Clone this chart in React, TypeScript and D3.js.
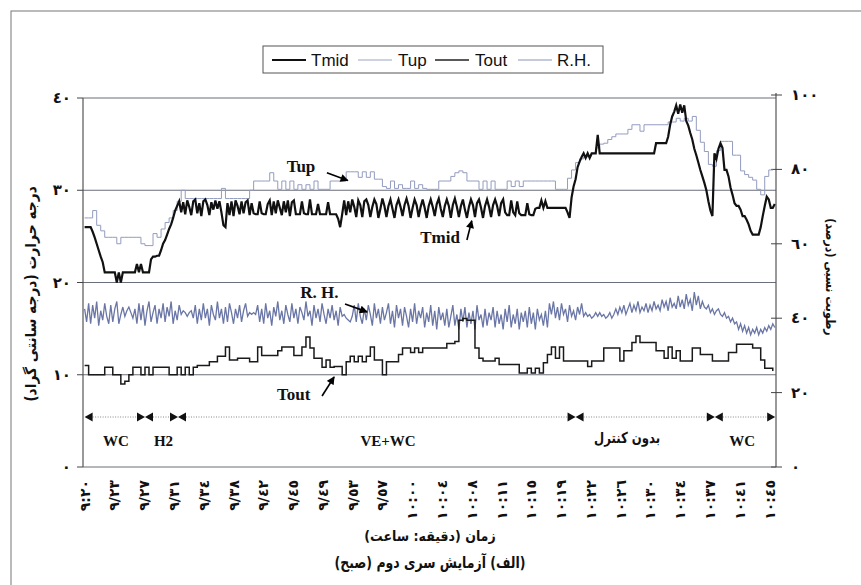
import React from 'react';
import * as d3 from 'd3';

// minutes after 9:20, sampled at a fixed step per series
const TMID_STEP = 0.25;
const tmid = [
  26.0, 26.0, 26.0, 26.0, 25.5, 24.9, 24.2, 23.5, 22.8, 22.2, 21.1, 21.1, 21.1, 21.1, 21.1, 21.1, 20.0, 21.1, 20.0, 21.1,
  21.1, 21.1, 21.1, 21.1, 21.1, 21.1, 22.0, 21.1, 22.0, 21.1, 21.1, 21.1, 21.1, 22.5, 22.8, 22.8, 22.9, 22.9, 23.5, 24.2,
  24.6, 25.2, 25.8, 26.3, 27.0, 27.8, 28.3, 28.8, 27.6, 28.7, 27.4, 28.9, 28.2, 27.3, 28.8, 29.0, 27.5, 28.6, 27.2, 28.8,
  29.0, 28.4, 27.3, 28.7, 27.9, 28.9, 28.0, 28.8, 27.6, 26.2, 26.0, 28.6, 27.3, 28.8, 27.2, 28.9, 28.3, 27.4, 28.8, 27.5,
  28.7, 28.9, 27.3, 28.6, 27.5, 27.4, 27.4, 28.8, 27.5, 27.4, 27.4, 28.5, 28.9, 27.3, 28.8, 27.5, 28.9, 28.1, 27.3, 28.8,
  27.6, 28.9, 27.2, 28.7, 28.9, 27.4, 27.4, 27.4, 28.8, 27.5, 27.4, 27.4, 29.0, 27.4, 27.4, 27.4, 28.5, 27.4, 27.4, 27.4,
  27.4, 28.7, 27.4, 27.4, 27.4, 27.4, 26.9, 26.0, 27.4, 28.9, 27.3, 28.8, 27.6, 29.0, 28.2, 27.1, 28.9, 28.4, 27.1, 28.8,
  29.0, 28.4, 27.1, 28.2, 29.0, 28.5, 27.0, 28.0, 29.1, 28.3, 27.1, 28.3, 29.0, 28.0, 27.0, 28.4, 29.0, 28.2, 27.2, 28.4,
  29.1, 28.3, 27.0, 28.1, 29.0, 28.4, 27.1, 28.2, 29.0, 28.1, 27.0, 28.3, 29.0, 28.2, 27.2, 28.5, 29.1, 28.0, 27.1, 28.3,
  29.0, 28.3, 27.0, 28.4, 29.1, 28.2, 27.1, 28.3, 29.0, 27.9, 27.0, 28.2, 29.0, 28.4, 27.1, 28.6, 29.0, 28.1, 27.0, 28.3,
  29.0, 28.2, 27.1, 28.4, 29.0, 28.3, 27.2, 28.6, 29.0, 27.6, 27.3, 27.3, 28.9, 27.6, 27.3, 28.8, 27.5, 27.3, 27.3, 27.3,
  28.6, 27.4, 27.3, 27.3, 28.0, 28.1, 28.1, 28.9, 28.1, 28.8, 28.1, 28.1, 28.1, 28.1, 28.1, 28.1, 28.1, 28.1, 28.1, 28.1,
  27.6, 27.0, 29.2, 30.4, 31.2, 32.5, 33.1, 33.6, 34.0, 33.5, 34.0, 33.5, 34.0, 34.0, 34.0, 36.0, 34.0, 34.0, 34.0, 34.0,
  34.0, 34.0, 34.0, 34.0, 34.0, 34.0, 34.0, 34.0, 34.0, 34.0, 34.0, 34.0, 34.0, 34.0, 34.0, 34.0, 34.0, 34.0, 34.0, 34.0,
  34.0, 34.0, 34.0, 34.0, 35.1, 35.1, 35.1, 35.1, 35.1, 35.1, 35.8, 37.1, 38.0, 38.5, 39.2, 38.3, 39.3, 38.4, 39.2, 37.5,
  37.0, 36.2, 35.5, 34.5, 33.8, 33.0, 32.2, 31.5, 30.8, 30.0, 28.8, 27.8, 27.2, 34.0, 33.4, 34.5, 35.1, 34.6, 32.2, 32.2,
  31.5, 30.3, 29.5, 28.6, 28.3, 28.3, 27.9, 27.2, 27.2, 26.8, 26.3, 25.6, 25.2, 25.2, 25.2, 25.2, 26.0, 27.2, 28.3, 29.3,
  29.0, 28.1, 28.1, 28.5,
];

const TUP_STEP = 0.5;
const tup = [
  27.0, 27.0, 27.8, 26.2, 25.6, 24.9, 24.9, 24.9, 24.2, 24.9,
  24.9, 24.9, 24.9, 24.9, 24.2, 24.0, 24.0, 25.3, 24.9, 25.8,
  26.5, 27.0, 27.8, 28.8, 30.0, 29.1, 29.1, 29.1, 29.1, 29.1,
  29.1, 29.1, 29.1, 29.1, 30.2, 29.1, 29.1, 29.1, 29.1, 29.1,
  29.1, 30.0, 31.0, 31.0, 31.0, 31.0, 31.9, 31.0, 30.1, 31.0,
  30.1, 31.0, 30.1, 30.6, 30.1, 30.6, 30.1, 31.0, 30.1, 30.1,
  30.1, 31.0, 31.0, 31.0, 31.0, 32.0, 32.0, 32.0, 31.4, 32.0,
  31.4, 32.0, 31.2, 31.2, 30.4, 30.2, 31.0, 30.2, 30.6, 30.2,
  30.2, 31.0, 30.2, 30.6, 30.2, 30.1, 30.1, 30.1, 31.0, 31.0,
  31.0, 31.5, 31.9, 32.1, 31.9, 31.0, 31.0, 31.0, 30.1, 31.0,
  30.1, 31.0, 30.1, 30.1, 30.1, 31.0, 30.4, 31.0, 30.4, 31.0,
  31.0, 31.0, 31.0, 31.0, 31.0, 31.0, 31.0, 30.1, 30.1, 30.1,
  31.3, 32.2, 33.0, 33.4, 33.6, 33.7, 34.0, 34.6, 35.0, 35.1,
  35.5, 35.8, 36.1, 36.1, 36.1, 36.6, 37.1, 37.1, 36.4, 37.1,
  37.1, 37.1, 37.1, 37.1, 37.1, 37.4, 37.4, 37.8, 37.5, 37.8,
  37.5, 38.0, 36.5, 35.2, 34.2, 32.8, 32.6, 34.3, 35.3, 35.3,
  35.3, 33.8, 33.8, 32.1, 31.7, 31.4, 31.1, 30.1, 29.5, 31.5,
  32.2, 32.2,
];

const TOUT_STEP = 0.5;
const tout = [
  11.0, 10.0, 10.0, 10.0, 10.0, 10.8, 10.8, 10.0, 10.0, 9.0,
  9.3, 10.0, 10.8, 10.8, 10.0, 10.8, 10.0, 10.8, 10.8, 10.8,
  10.8, 10.0, 10.0, 10.8, 10.0, 10.8, 10.0, 10.8, 11.0, 11.0,
  11.0, 11.4, 11.4, 12.0, 12.0, 13.0, 11.6, 11.6, 11.8, 11.8,
  11.8, 11.4, 11.4, 13.0, 12.1, 12.1, 12.1, 12.1, 12.6, 13.0,
  13.0, 13.0, 12.1, 12.1, 13.0, 14.1, 12.9, 11.8, 11.8, 10.8,
  11.6, 10.8, 10.9, 10.9, 10.0, 11.4, 12.0, 11.4, 12.0, 11.4,
  12.0, 13.0, 11.6, 11.6, 10.0, 11.4, 11.4, 11.4, 12.2, 12.9,
  12.9, 12.4, 12.9, 12.4, 12.9, 12.9, 12.9, 12.9, 12.9, 12.9,
  13.4, 13.4, 13.6, 15.9, 16.1, 15.9, 15.9, 12.9, 11.8, 11.5,
  11.5, 11.5, 11.8, 11.1, 11.1, 11.1, 11.1, 11.1, 10.2, 10.2,
  10.7, 10.2, 10.7, 10.2, 11.3, 12.2, 13.0, 11.8, 13.0, 11.5,
  11.5, 11.5, 11.5, 11.5, 11.5, 10.9, 11.5, 11.5, 11.5, 12.9,
  12.9, 12.9, 12.9, 11.5, 12.6, 12.6, 13.5, 14.2, 13.5, 13.5,
  13.5, 13.5, 12.6, 12.6, 11.8, 13.0, 11.8, 12.6, 11.5, 11.5,
  11.5, 12.9, 12.9, 12.2, 12.2, 12.2, 11.5, 11.5, 11.5, 11.5,
  12.4, 12.4, 13.3, 13.3, 13.3, 13.3, 12.9, 12.9, 11.6, 10.7,
  10.7, 10.4,
];

const RH_STEP = 0.25;
const rh = [
  42.5, 39.0, 44.0, 38.5, 43.5, 40.0, 44.5, 38.0, 42.0, 39.5, 44.0, 40.5, 38.5, 43.5, 39.0, 42.5, 44.5, 38.5, 41.0, 43.0,
  40.5, 42.0, 43.0, 41.5, 40.0, 42.5, 38.5, 44.0, 39.5, 43.5, 38.0, 42.0, 44.5, 39.0, 41.5, 43.5, 38.5, 42.5, 40.0, 44.0,
  39.0, 43.0, 40.5, 44.5, 38.5, 42.0, 39.5, 43.5, 41.0, 42.0, 41.5, 40.5, 41.5, 42.0, 40.0, 43.5, 38.5, 42.5, 39.5, 44.0,
  40.0, 42.5, 38.0, 43.5, 41.0, 39.5, 44.5, 40.0, 42.5, 38.5, 43.0, 39.0, 44.0, 41.5, 38.5, 42.5, 40.0, 43.5, 39.0, 42.0,
  44.0, 40.5, 41.5, 41.0, 41.5, 41.0, 43.5, 39.0, 42.5, 38.5, 44.0, 40.0, 42.0, 38.0, 43.0, 40.5, 44.5, 39.5, 42.0, 38.5,
  43.5, 41.0, 39.0, 44.0, 40.0, 42.5, 38.5, 43.0, 41.5, 39.5, 44.5, 40.5, 42.0, 38.0, 43.5, 40.0, 42.5, 39.0, 44.0, 41.0,
  38.5, 42.5, 40.0, 43.5, 39.5, 42.0, 38.0, 43.0, 40.5, 41.0, 40.0, 39.5, 39.0, 40.5, 43.5, 39.0, 44.0, 40.5, 38.5, 42.5,
  39.5, 43.5, 41.0, 38.0, 44.0, 40.0, 42.5, 38.5, 43.0, 39.5, 41.5, 44.0, 38.5, 42.0, 37.5, 43.5, 40.0, 42.5, 38.0, 43.0,
  40.5, 37.5, 42.5, 39.0, 44.0, 38.5, 42.0, 40.0, 43.0, 37.5, 41.5, 39.0, 43.5, 38.0, 42.0, 37.0, 43.0, 39.5, 41.5, 38.0,
  42.5, 37.5, 40.5, 43.5, 38.0, 41.0, 37.0, 42.5, 39.0, 43.0, 37.5, 41.5, 38.5, 42.0, 37.0, 43.5, 39.5, 41.0, 37.5, 42.5,
  38.0, 41.5, 39.5, 43.0, 37.5, 42.0, 38.5, 41.0, 37.0, 42.5, 39.0, 43.5, 37.5, 41.0, 38.5, 42.5, 37.0, 41.5, 39.0, 42.0,
  37.5, 43.0, 38.5, 41.5, 37.0, 42.5, 39.5, 41.0, 38.0, 42.0, 37.5, 44.0, 41.0, 44.5, 40.0, 43.0, 39.5, 44.0, 41.0, 42.5,
  39.0, 43.5, 40.5, 42.0, 39.5, 43.0, 41.0, 44.0, 40.5, 41.5, 40.5, 41.0, 40.0, 40.5, 41.5, 40.5, 41.5, 40.5, 41.0, 40.0,
  40.5, 41.5, 40.0, 41.0, 42.5, 41.0, 43.0, 41.5, 43.5, 41.0, 42.5, 44.0, 41.5, 43.5, 42.0, 44.5, 41.5, 43.0, 42.0, 44.0,
  41.5, 43.5, 42.0, 44.5, 42.5, 43.5, 42.0, 45.0, 43.0, 44.5, 42.0, 45.5, 43.0, 44.0, 42.5, 46.0, 43.0, 45.0, 42.5, 46.5,
  43.5, 45.0, 42.0, 47.0, 43.5, 46.0, 42.5, 44.5, 43.0, 42.5, 43.5, 41.5, 42.5, 41.0, 42.0, 42.5, 41.0, 40.5, 41.5, 40.0,
  40.5, 39.0, 40.0, 38.5, 39.0, 37.0, 38.5, 36.5, 38.0, 36.0, 37.5, 35.5, 37.0, 36.0, 37.5, 35.5, 37.0, 36.0, 37.5, 36.5,
  38.0, 37.0, 38.5, 37.5,
];

// category labels on the time axis (minute offset, label)
const timeTicks = [0, 3.7, 7.4, 11.1, 14.8, 18.5, 22.2, 25.9, 29.6, 33.3, 37, 40.7, 44.4, 48.1, 51.8, 55.5, 59.2, 62.9, 66.6, 70.3, 74, 77.7, 81.4, 85.1];
const timeLabels = ['٩:٢٠', '٩/٢٣', '٩/٢٧', '٩/٣١', '٩/٣٤', '٩/٣٨', '٩/٤٢', '٩/٤٥', '٩/٤٩', '٩/٥٣', '٩/٥٧', '١٠:٠٠',
  '١٠:٠٤', '١٠:٠٨', '١٠:١١', '١٠:١٥', '١٠:١٩', '١٠:٢٢', '١٠:٢٦', '١٠:٣٠', '١٠:٣٤', '١٠:٣٧', '١٠:٤١', '١٠:٤٥'];
const tempTicks = [0, 10, 20, 30, 40];
const rhTicks = [0, 20, 40, 60, 80, 100];
const tempGrid = [10, 20, 30, 40];

// control phases (minutes)
const phases = [
  { name: 'WC', from: 0, to: 7.5, at: 3.9 },
  { name: 'H2', from: 7.5, to: 11.6, at: 9.8 },
  { name: 'VE+WC', from: 11.6, to: 61.0, at: 37.7 },
  { name: 'بدون کنترل', from: 61.0, to: 78.3, at: 67.4 },
  { name: 'WC', from: 78.3, to: 85.8, at: 81.7 },
];

const legendItems = [
  { name: 'Tmid', color: '#111', width: 2 },
  { name: 'Tup', color: '#9aa2c2', width: 1 },
  { name: 'Tout', color: '#222', width: 1.3 },
  { name: 'R.H.', color: '#8a93b8', width: 1 },
];

const arabicDigits = (n: number) => String(n).replace(/\d/g, d => String.fromCharCode(0x660 + Number(d)));

const FA = '"DejaVu Sans", sans-serif';
const SERIF = '"Liberation Serif", "Times New Roman", serif';

export default function App() {
  const x = d3.scaleLinear().domain([-0.2, 85.9]).range([83, 776]);
  const yT = d3.scaleLinear().domain([0, 40]).range([467, 98]);
  const yR = d3.scaleLinear().domain([0, 100]).range([467, 95]);

  const path = (vals: number[], step: number, y: d3.ScaleLinear<number, number>, curve: d3.CurveFactory) =>
    d3.line<number>().x((_, i) => x(i * step)).y(d => y(d)).curve(curve)(vals) || '';

  const left = x.range()[0];
  const right = x.range()[1];
  const bottom = yT(0);
  const gridColor = '#6b6f7a';
  const barY = 417;

  // annotations in data units: [t, value] for text, arrow start, arrow end
  const notes = [
    { text: 'Tup', scale: yT, tx: 25.1, ty: 32.0, a: [30.1, 31.9], b: [32.7, 31.05] },
    { text: 'Tmid', scale: yT, tx: 41.7, ty: 24.3, a: [47.5, 24.6], b: [48.1, 26.7] },
    { text: 'R. H.', scale: yR, tx: 26.8, ty: 45.4, a: [32.35, 43.8], b: [35.1, 41.7] },
    { text: 'Tout', scale: yT, tx: 23.9, ty: 7.26, a: [29.5, 7.7], b: [31.0, 9.76] },
  ];

  return (
    <svg width={861} height={585} style={{ position: 'absolute', left: 0, top: 0, background: '#fff' }}>
      <defs>
        <marker id="ah" viewBox="0 0 10 10" refX="9" refY="5" markerWidth="9" markerHeight="8"
          markerUnits="userSpaceOnUse" orient="auto">
          <path d="M0,0 L10,5 L0,10 Z" fill="#000" />
        </marker>
      </defs>
      <rect x={0} y={0} width={861} height={585} fill="#fff" />
      {/* outer frame */}
      <rect x={11} y={11} width={900} height={700} fill="none" stroke="#777" strokeWidth={1} />

      {/* legend */}
      <rect x={263} y={46} width={340} height={27} fill="#fff" stroke="#555" strokeWidth={1} />
      {legendItems.map((it, i) => {
        const lx = [272, 358, 435, 518][i];
        const tx = [311, 398, 475, 557][i];
        return (
          <g key={it.name}>
            <line x1={lx} x2={lx + 34} y1={60} y2={60} stroke={it.color} strokeWidth={it.width} />
            <text x={tx} y={66} fontFamily='"Liberation Sans", Arial, sans-serif' fontSize={17} fill="#111">{it.name}</text>
          </g>
        );
      })}

      {/* grid and frame of plot */}
      {tempGrid.map(v => (
        <line key={v} x1={left} x2={right} y1={yT(v)} y2={yT(v)} stroke={gridColor} strokeWidth={1} />
      ))}
      <line x1={left} x2={right} y1={bottom} y2={bottom} stroke={gridColor} strokeWidth={1} />
      <line x1={left} x2={left} y1={yT(40)} y2={bottom} stroke="#555" strokeWidth={1.2} />
      <line x1={right} x2={right} y1={yR(100) - 2} y2={bottom} stroke="#555" strokeWidth={1.2} />

      {/* left axis */}
      {tempTicks.map(v => (
        <g key={v}>
          <line x1={left - 6} x2={left} y1={yT(v)} y2={yT(v)} stroke="#444" />
          <text x={left - 12} y={yT(v) + 5} textAnchor="end" fontFamily={FA} fontWeight="bold" fontSize={15} fill="#111">
            {arabicDigits(v)}
          </text>
        </g>
      ))}
      {/* right axis */}
      {rhTicks.map(v => (
        <g key={v}>
          <line x1={right - 5} x2={right + 6} y1={yR(v)} y2={yR(v)} stroke="#444" />
          <text x={right + 15} y={yR(v) + 5} textAnchor="start" fontFamily={FA} fontWeight="bold" fontSize={15} fill="#111">
            {arabicDigits(v)}
          </text>
        </g>
      ))}
      <text transform="translate(36,294) rotate(-90) scale(0.92,1)" textAnchor="middle" direction="rtl" fontFamily={FA}
        fontWeight="bold" fontSize={15} fill="#111">درجه حرارت (درجه سانتی گراد)</text>
      <text transform="translate(826,277) rotate(90) scale(0.85,1)" textAnchor="middle" direction="rtl" fontFamily={FA}
        fontWeight="bold" fontSize={13} fill="#111">رطوبت نسبی (درصد)</text>

      {/* time labels */}
      {timeTicks.map((t, i) => (
        <text key={i} transform={`translate(${x(t) + 5},480) rotate(-90)`} textAnchor="end" fontFamily={FA}
          fontWeight="bold" fontSize={14} fill="#111">{timeLabels[i]}</text>
      ))}
      <text transform="translate(430,541) scale(0.9,1)" textAnchor="middle" direction="rtl" fontFamily={FA}
        fontWeight="bold" fontSize={14} fill="#111">زمان (دقیقه: ساعت)</text>
      <text transform="translate(430,568) scale(0.78,1)" textAnchor="middle" direction="rtl" fontFamily={FA}
        fontWeight="bold" fontSize={16} fill="#111">(الف) آزمایش سری دوم (صبح)</text>

      {/* series */}
      <path d={path(rh, RH_STEP, yR, d3.curveLinear)} fill="none" stroke="#6a76a6" strokeWidth={1.3} />
      <path d={path(tup, TUP_STEP, yT, d3.curveStepAfter)} fill="none" stroke="#939cbf" strokeWidth={1} />
      <path d={path(tout, TOUT_STEP, yT, d3.curveStepAfter)} fill="none" stroke="#1a1a1a" strokeWidth={1.5} />
      <path d={path(tmid, TMID_STEP, yT, d3.curveLinear)} fill="none" stroke="#111" strokeWidth={2.2} />

      {/* control phases */}
      {phases.map((p, i) => {
        const a = x(p.from);
        const b = x(p.to);
        const fa = p.name === 'بدون کنترل';
        return (
          <g key={i}>
            <line x1={a + 8} x2={b - 8} y1={barY} y2={barY} stroke="#888" strokeWidth={1} strokeDasharray="1,1.5" />
            <path d={`M${a},${barY} L${a + 8},${barY - 4.5} L${a + 8},${barY + 4.5} Z`} fill="#111" />
            <path d={`M${b},${barY} L${b - 8},${barY - 4.5} L${b - 8},${barY + 4.5} Z`} fill="#111" />
            {fa ? (
              <text transform={`translate(${x(p.at)},443) scale(0.78,1)`} textAnchor="middle" direction="rtl"
                fontFamily={FA} fontWeight="bold" fontSize={15} fill="#111">{p.name}</text>
            ) : (
              <text x={x(p.at)} y={446} textAnchor="middle" fontFamily={SERIF} fontWeight="bold" fontSize={15}
                fill="#111">{p.name}</text>
            )}
          </g>
        );
      })}

      {/* annotations */}
      {notes.map(n => (
        <g key={n.text}>
          <text x={x(n.tx)} y={n.scale(n.ty)} fontFamily={SERIF} fontWeight="bold" fontSize={17} fill="#111">{n.text}</text>
          <line x1={x(n.a[0])} y1={n.scale(n.a[1])} x2={x(n.b[0])} y2={n.scale(n.b[1])} stroke="#000" strokeWidth={1.6}
            markerEnd="url(#ah)" />
        </g>
      ))}
    </svg>
  );
}
